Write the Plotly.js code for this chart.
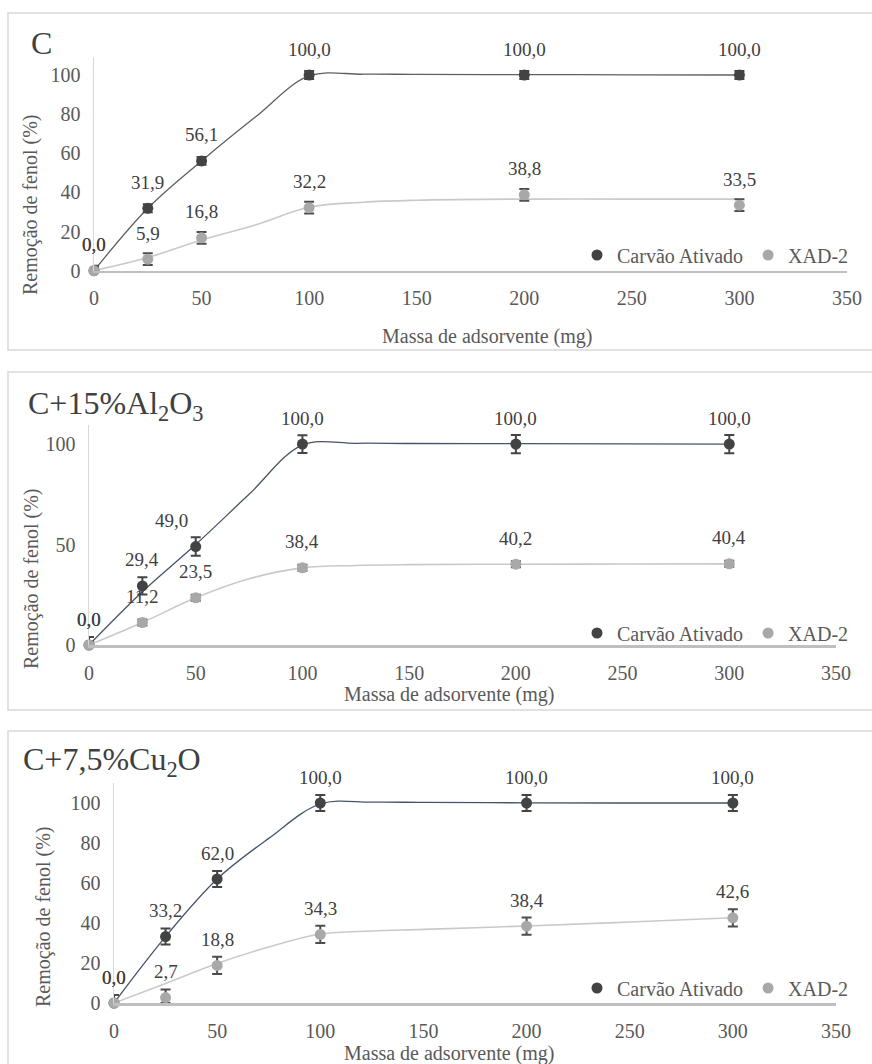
<!DOCTYPE html>
<html>
<head>
<meta charset="utf-8">
<script src="https://cdn.plot.ly/plotly-3.0.1.min.js"></script>
<style>
html,body{margin:0;padding:0;background:#fff;}
#chart{width:872px;height:1064px;}
#chart text{font-family:'Liberation Serif','Times New Roman',serif !important;}
</style>
</head>
<body>
<div id="chart"></div>
<script>
// ---- Data ----
const massa = [0, 25, 50, 100, 200, 300];
const fitX = [0, 25, 50, 75, 100, 125, 150, 200, 250, 300];

// Panel 1: C
const p1Carvao = [0, 31.9, 56.1, 100, 100, 100];
const p1CarvaoErr = [2, 2, 2, 2, 2, 2];
const p1Xad = [0, 5.9, 16.8, 32.2, 38.8, 33.5];
const p1XadErr = [2.5, 3, 3, 3, 3, 3];
const p1CarvaoFit = [0, 31.9, 56.1, 78.5, 99.5, 100.4, 100.3, 100.2, 100.1, 100];
const p1XadFit = [0, 6.7, 15.7, 23.4, 32.4, 35.0, 36.0, 36.6, 36.6, 36.6];

// Panel 2: C+15%Al2O3
const p2Carvao = [0, 29.4, 49.0, 100, 100, 100];
const p2CarvaoErr = [4, 4.3, 4.6, 4.4, 4.5, 4.5];
const p2Xad = [0, 11.2, 23.5, 38.4, 40.2, 40.4];
const p2XadErr = [1.5, 1.5, 1.5, 1.5, 1.5, 1.5];
const p2CarvaoFit = [0, 26.5, 50.0, 75.0, 99.5, 100.4, 100.3, 100.2, 100.1, 100];
const p2XadFit = [0, 11.2, 23.5, 33.0, 38.4, 39.6, 40.0, 40.2, 40.3, 40.4];

// Panel 3: C+7,5%Cu2O
const p3Carvao = [0, 33.2, 62.0, 100, 100, 100];
const p3CarvaoErr = [4, 4, 4, 4, 4, 4];
const p3Xad = [0, 2.7, 18.8, 34.3, 38.4, 42.6];
const p3XadErr = [4, 4.1, 4.3, 4.3, 4.3, 4.3];
const p3CarvaoFit = [0, 33.2, 62.0, 82.3, 99.5, 100.4, 100.3, 100.1, 100, 100];
const p3XadFit = [0, 9.8, 19.8, 28.0, 34.5, 36.0, 36.8, 38.5, 40.5, 42.6];

const panelTitles = ['C', 'C+15%Al<sub>2</sub>O<sub>3</sub>', 'C+7,5%Cu<sub>2</sub>O'];
const seriesNames = ['Carvão Ativado', 'XAD-2'];
const xTitle = 'Massa de adsorvente (mg)';
const yTitle = 'Remoção de fenol (%)';

// ---- Layout helpers ----
const W = 872, H = 1064;
const px = v => v / W;
const py = v => 1 - v / H;
const FONT = 'Liberation Serif';

const panels = [
  {car: p1Carvao, carErr: p1CarvaoErr, xad: p1Xad, xadErr: p1XadErr, carFit: p1CarvaoFit, fit: p1XadFit,
   xdom: [94, 847], ydom: [57, 270.7], ytop: 109.2, dtick: 20, carLine: '#5f5f5f',
   title: {x: 29, y: 43}, ytitle: {x: 30, y: 205}, xtitle: {x: 487, y: 337},
   legend: {y: 255}, box: [13, 350]},
  {car: p2Carvao, carErr: p2CarvaoErr, xad: p2Xad, xadErr: p2XadErr, carFit: p2CarvaoFit, fit: p2XadFit,
   xdom: [89, 836], ydom: [425, 645], ytop: 109.5, dtick: 50, carLine: '#44546A',
   title: {x: 26, y: 406}, ytitle: {x: 31, y: 579}, xtitle: {x: 450, y: 694},
   legend: {y: 633}, box: [372, 710]},
  {car: p3Carvao, carErr: p3CarvaoErr, xad: p3Xad, xadErr: p3XadErr, carFit: p3CarvaoFit, fit: p3XadFit,
   xdom: [114, 836], ydom: [783, 1003], ytop: 110, dtick: 20, carLine: '#44546A',
   title: {x: 21, y: 761}, ytitle: {x: 43, y: 917}, xtitle: {x: 450, y: 1053},
   legend: {y: 988}, box: [731, 1080]}
];

const fmt = v => v.toFixed(1).replace('.', ',');
const traces = [];
const annotations = [];
const shapes = [];
const layout = {
  width: W, height: H,
  margin: {l: 0, r: 0, t: 0, b: 0},
  paper_bgcolor: '#ffffff', plot_bgcolor: 'rgba(0,0,0,0)',
  font: {family: FONT, color: '#595959', size: 20},
  showlegend: true,
  annotations: annotations, shapes: shapes
};

panels.forEach((p, i) => {
  const n = i + 1;
  const xa = n === 1 ? 'x' : 'x' + n;
  const ya = n === 1 ? 'y' : 'y' + n;
  const xk = n === 1 ? 'xaxis' : 'xaxis' + n;
  const yk = n === 1 ? 'yaxis' : 'yaxis' + n;
  const lg = n === 1 ? 'legend' : 'legend' + n;

  layout[xk] = {
    domain: [px(p.xdom[0]), px(p.xdom[1])], range: [0, 350], dtick: 50, tick0: 0,
    anchor: ya, showgrid: false, zeroline: false, showline: true,
    linecolor: '#BFBFBF', linewidth: 2.5, ticks: '', ticklabelstandoff: 8,
    tickfont: {family: FONT, size: 20, color: '#595959'}, fixedrange: true
  };
  layout[yk] = {
    domain: [py(p.ydom[1]), py(p.ydom[0])], range: [0, p.ytop], dtick: p.dtick, tick0: 0,
    anchor: xa, showgrid: false, zeroline: false, showline: true,
    linecolor: '#D9D9D9', linewidth: 1.5, ticks: '', ticklabelstandoff: 8,
    tickfont: {family: FONT, size: 20, color: '#595959'}, fixedrange: true
  };
  layout[lg] = {
    orientation: 'h', x: px(854), xanchor: 'right', y: py(p.legend.y), yanchor: 'middle',
    bgcolor: 'rgba(0,0,0,0)', font: {family: FONT, size: 20, color: '#595959'},
    itemwidth: 30, tracegroupgap: 0
  };

  // fitted / smoothed lines
  traces.push({x: fitX, y: p.carFit, xaxis: xa, yaxis: ya, mode: 'lines',
    line: {shape: 'spline', smoothing: 1, color: p.carLine, width: 1.3},
    showlegend: false, hoverinfo: 'skip'});
  traces.push({x: fitX, y: p.fit, xaxis: xa, yaxis: ya, mode: 'lines',
    line: {shape: 'spline', smoothing: 1, color: '#C9C9C9', width: 1.6},
    showlegend: false, hoverinfo: 'skip'});

  // markers with error bars
  traces.push({x: massa, y: p.car, xaxis: xa, yaxis: ya, mode: 'markers', name: seriesNames[0],
    legend: lg, legendrank: 1, cliponaxis: false,
    marker: {color: '#434343', size: 11},
    error_y: {type: 'data', symmetric: false, array: p.carErr,
      arrayminus: p.carErr.map((e, k) => Math.min(e, p.car[k])),
      color: '#454545', thickness: 2, width: 5}});
  traces.push({x: massa, y: p.xad, xaxis: xa, yaxis: ya, mode: 'markers', name: seriesNames[1],
    legend: lg, legendrank: 2, cliponaxis: false,
    marker: {color: '#A8A8A8', size: 11},
    error_y: {type: 'data', symmetric: false, array: p.xadErr,
      arrayminus: p.xadErr.map((e, k) => Math.min(e, p.xad[k])),
      color: '#4d4d4d', thickness: 2, width: 5}});

  // data labels
  const addLabels = (vals, xshifts) => vals.forEach((v, k) => {
    annotations.push({x: massa[k], y: v, xref: xa, yref: ya, text: fmt(v), showarrow: false,
      yshift: 26, xshift: xshifts ? xshifts[k] : 0,
      font: {family: FONT, size: 19, color: '#404040'}});
  });
  addLabels(p.car, n === 2 ? [0, 0, -24, 0, 0, 0] : null);
  addLabels(p.xad, null);

  // panel title
  annotations.push({xref: 'paper', yref: 'paper', x: px(p.title.x), y: py(p.title.y),
    xanchor: 'left', yanchor: 'middle', showarrow: false, text: panelTitles[i],
    font: {family: FONT, size: 32, color: '#404040'}});
  // axis titles
  annotations.push({xref: 'paper', yref: 'paper', x: px(p.ytitle.x), y: py(p.ytitle.y),
    xanchor: 'center', yanchor: 'middle', showarrow: false, textangle: -90, text: yTitle,
    font: {family: FONT, size: 20, color: '#595959'}});
  annotations.push({xref: 'paper', yref: 'paper', x: px(p.xtitle.x), y: py(p.xtitle.y),
    xanchor: 'center', yanchor: 'middle', showarrow: false, text: xTitle,
    font: {family: FONT, size: 20, color: '#595959'}});

  // panel frame
  shapes.push({type: 'rect', xref: 'paper', yref: 'paper', x0: px(8), x1: px(890),
    y0: py(p.box[1]), y1: py(p.box[0]), line: {color: '#D9D9D9', width: 1.5},
    fillcolor: 'rgba(0,0,0,0)', layer: 'below'});
});

Plotly.newPlot('chart', traces, layout, {displayModeBar: false, staticPlot: true});
</script>
</body>
</html>
